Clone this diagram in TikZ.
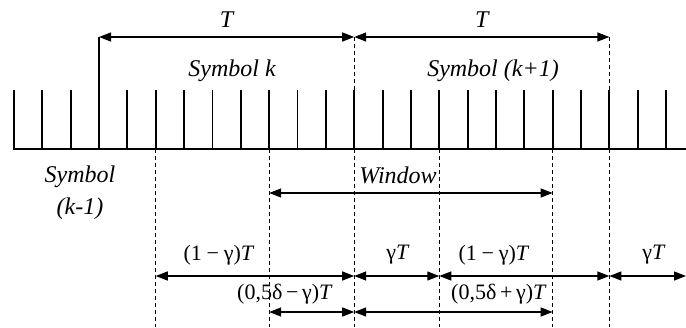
\documentclass[tikz,border=0pt]{standalone}
\usepackage{fontspec}
\setmainfont{Liberation Serif}
\usetikzlibrary{arrows.meta}
\tikzset{
  tickline/.style={line width=1.9pt},
  dimarrow/.style={line width=1.3pt, {Triangle[length=12pt,width=9pt]}-{Triangle[length=12pt,width=9pt]}},
  guide/.style={line width=0.8pt, dash pattern=on 4pt off 3pt},
  lbl/.style={font=\fontsize{22}{24}\selectfont, inner sep=0pt},
  ital/.style={font=\fontsize{24}{26}\selectfont\itshape, inner sep=0pt},
}
\newcommand{\mysp}{\hspace{0.22em}}
\begin{document}
\begin{tikzpicture}[x=1pt,y=-1pt]
\useasboundingbox (0,0) rectangle (686,327);
% ticks
\coordinate (b0) at (13,149);
\coordinate (bE) at (686,149);
\draw[tickline] (b0) -- (bE);
\foreach \i in {0,...,23}{
  \coordinate (t\i) at ({14+28.35*\i},90);
  \coordinate (u\i) at ({14+28.35*\i},149);
  \draw[tickline] (u\i) -- (t\i);
}
% top extension of tick 3
\coordinate (a3) at ({14+28.35*3},37);
\draw[tickline, line width=1.3pt] (t3) -- (a3);
% top T arrows
\coordinate (a12) at ({14+28.35*12},37);
\coordinate (a21) at ({14+28.35*21},37);
\draw[dimarrow] (a3) -- (a12) node[midway, above=9pt, ital]{T};
\draw[dimarrow] (a12) -- (a21) node[midway, above=9pt, ital]{T};
% guide lines
\coordinate (g5) at ({14+28.35*5},327);
\coordinate (g9) at ({14+28.35*9},327);
\coordinate (g12) at ({14+28.35*12},327);
\coordinate (g15) at ({14+28.35*15},327);
\coordinate (g19) at ({14+28.35*19},327);
\coordinate (g21) at ({14+28.35*21},327);
\draw[guide] (u5) -- (g5);
\draw[guide] (u9) -- (g9);
\draw[guide] (a12) -- (g12);
\draw[guide] (u15) -- (g15);
\draw[guide] (u19) -- (g19);
\draw[guide] (a21) -- (g21);
% symbol labels
\node[ital] (sk) at (232,71) {Symbol k};
\node[ital] (sk1) at (493,71) {Symbol (k+1)};
\node[ital] (skm) at (80,177) {Symbol};
\node[ital] (skm2) at (80,209) {(k-1)};
% window
\coordinate (w1) at ({14+28.35*9},193);
\coordinate (w2) at ({14+28.35*19},193);
\draw[dimarrow] (w1) -- (w2);
\node[ital] (win) at (398,175) {Window};
% row 1
\coordinate (r5) at ({14+28.35*5},276);
\coordinate (r12) at ({14+28.35*12},276);
\coordinate (r15) at ({14+28.35*15},276);
\coordinate (r21) at ({14+28.35*21},276);
\coordinate (rE) at (686,276);
\draw[dimarrow] (r5) -- (r12);
\draw[dimarrow] (r12) -- (r15);
\draw[dimarrow] (r15) -- (r21);
\draw[dimarrow] (r21) -- (rE);
\node[lbl] (l1) at (219,255) {(1\mysp−\mysp γ)\textit{T}};
\node[lbl] (l2) at (398,255) {γ\textit{T}};
\node[lbl] (l3) at (494,255) {(1\mysp−\mysp γ)\textit{T}};
\node[lbl] (l4) at (654,255) {γ\textit{T}};
% row 2
\coordinate (s9) at ({14+28.35*9},312);
\coordinate (s12) at ({14+28.35*12},312);
\coordinate (s19) at ({14+28.35*19},312);
\draw[dimarrow] (s9) -- (s12);
\draw[dimarrow] (s12) -- (s19);
\node[lbl] (l5) at (285,294) {(0,5δ\,−\,γ)\textit{T}};
\node[lbl] (l6) at (499,294) {(0,5δ\,+\,γ)\textit{T}};
\end{tikzpicture}
\end{document}
